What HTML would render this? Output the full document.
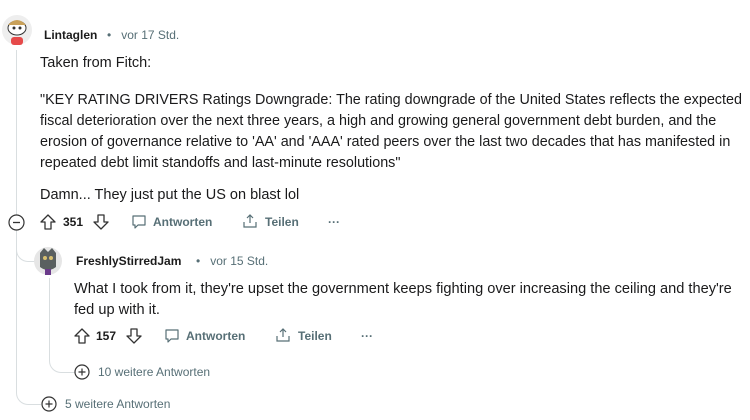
<!DOCTYPE html>
<html><head><meta charset="utf-8"><style>
body{margin:0;width:750px;height:420px;background:#fff;position:relative;overflow:hidden;font-family:"Liberation Sans",sans-serif;color:#1a1a1b}
.a{position:absolute;white-space:nowrap}
.t{font-size:14.5px;line-height:21px}
.u{font-size:12px;font-weight:bold;color:#1c1c1c}
.g{font-size:12px;color:#576f76}
.act{font-size:12px;font-weight:bold;color:#576f76}
.line{position:absolute;border-color:#d9dee0;border-style:solid;border-width:0}
svg{position:absolute;overflow:visible}
</style></head><body>
<div class="line" style="left:16px;top:50px;width:24px;height:354px;border-left-width:1px;border-bottom-width:1px;border-bottom-left-radius:12px"></div>
<div class="line" style="left:49px;top:278px;width:25px;height:94px;border-left-width:1px;border-bottom-width:1px;border-bottom-left-radius:12px"></div>
<div class="line" style="left:16px;top:240px;width:18px;height:21px;border-left-width:1px;border-bottom-width:1px;border-bottom-left-radius:12px"></div>

<svg style="left:2px;top:14px" width="30" height="32"><circle cx="15" cy="16" r="15" fill="#eeeeee"/><ellipse cx="15" cy="14" rx="9" ry="7" fill="#fff" stroke="#333" stroke-width="1"/><path d="M6 11 Q15 1 24 11" fill="#c9a15a"/><circle cx="12" cy="14" r="1.5" fill="#333"/><circle cx="18" cy="14" r="1.5" fill="#333"/><rect x="9" y="23" width="12" height="8" rx="3" fill="#e64a4a"/></svg>
<div class="a u" style="left:44px;top:28px">Lintaglen</div>
<div class="a g" style="left:107px;top:28px">•&nbsp;&nbsp;&nbsp;vor 17 Std.</div>

<div class="a t" style="left:40px;top:53px">Taken from Fitch:</div>
<div class="a t" style="left:40px;top:90px;font-size:14.35px">"KEY RATING DRIVERS Ratings Downgrade: The rating downgrade of the United States reflects the expected<br>fiscal deterioration over the next three years, a high and growing general government debt burden, and the<br>erosion of governance relative to 'AA' and 'AAA' rated peers over the last two decades that has manifested in<br>repeated debt limit standoffs and last-minute resolutions"</div>
<div class="a t" style="left:40px;top:185px">Damn... They just put the US on blast lol</div>

<svg style="left:8px;top:214px" width="17" height="17"><circle cx="8.5" cy="8.5" r="7.5" fill="#fff" stroke="#333" stroke-width="1.2"/><line x1="5" y1="8.5" x2="12" y2="8.5" stroke="#333" stroke-width="1.3"/></svg>
<svg style="left:40px;top:214px" width="16" height="16"><path d="M8 1 L15 8 H11 V15 H5 V8 H1 Z" fill="none" stroke="#333" stroke-width="1.3" stroke-linejoin="round"/></svg>
<div class="a act" style="left:63px;top:215px;color:#1c1c1c">351</div>
<svg style="left:93px;top:214px" width="16" height="16"><path d="M8 15 L15 8 H11 V1 H5 V8 H1 Z" fill="none" stroke="#333" stroke-width="1.3" stroke-linejoin="round"/></svg>
<svg style="left:131px;top:214px" width="16" height="16"><path d="M2 2 H14 V11 H7 L4 14 V11 H2 Z" fill="none" stroke="#576f76" stroke-width="1.2" stroke-linejoin="round"/></svg>
<div class="a act" style="left:153px;top:215px">Antworten</div>
<svg style="left:242px;top:213px" width="16" height="16"><path d="M8 10 V2 M5 5 L8 2 L11 5 M2 9 V14 H14 V9" fill="none" stroke="#576f76" stroke-width="1.2"/></svg>
<div class="a act" style="left:265px;top:215px">Teilen</div>
<div class="a act" style="left:328px;top:215px">···</div>

<svg style="left:34px;top:245px" width="30" height="32"><circle cx="14" cy="16" r="14" fill="#e6e6e6"/><path d="M6 8 L10 3 L14 7 L18 3 L22 8 L22 22 Q14 28 6 22 Z" fill="#5a6060"/><circle cx="11" cy="13" r="2" fill="#d8c070"/><circle cx="17" cy="13" r="2" fill="#d8c070"/><rect x="11" y="24" width="6" height="6" fill="#6a3a8a"/></svg>
<div class="a u" style="left:76px;top:254px">FreshlyStirredJam</div>
<div class="a g" style="left:196px;top:254px">•&nbsp;&nbsp;&nbsp;vor 15 Std.</div>
<div class="a t" style="left:74px;top:279px;font-size:14.6px">What I took from it, they're upset the government keeps fighting over increasing the ceiling and they're<br>fed up with it.</div>

<svg style="left:74px;top:328px" width="16" height="16"><path d="M8 1 L15 8 H11 V15 H5 V8 H1 Z" fill="none" stroke="#333" stroke-width="1.3" stroke-linejoin="round"/></svg>
<div class="a act" style="left:96px;top:329px;color:#1c1c1c">157</div>
<svg style="left:126px;top:328px" width="16" height="16"><path d="M8 15 L15 8 H11 V1 H5 V8 H1 Z" fill="none" stroke="#333" stroke-width="1.3" stroke-linejoin="round"/></svg>
<svg style="left:164px;top:328px" width="16" height="16"><path d="M2 2 H14 V11 H7 L4 14 V11 H2 Z" fill="none" stroke="#576f76" stroke-width="1.2" stroke-linejoin="round"/></svg>
<div class="a act" style="left:186px;top:329px">Antworten</div>
<svg style="left:275px;top:327px" width="16" height="16"><path d="M8 10 V2 M5 5 L8 2 L11 5 M2 9 V14 H14 V9" fill="none" stroke="#576f76" stroke-width="1.2"/></svg>
<div class="a act" style="left:298px;top:329px">Teilen</div>
<div class="a act" style="left:361px;top:329px">···</div>

<svg style="left:74px;top:364px" width="16" height="16"><circle cx="8" cy="8" r="7" fill="#fff" stroke="#333" stroke-width="1.2"/><path d="M4.5 8 H11.5 M8 4.5 V11.5" stroke="#333" stroke-width="1.2"/></svg>
<div class="a g" style="left:98px;top:365px">10 weitere Antworten</div>
<svg style="left:41px;top:396px" width="16" height="16"><circle cx="8" cy="8" r="7" fill="#fff" stroke="#333" stroke-width="1.2"/><path d="M4.5 8 H11.5 M8 4.5 V11.5" stroke="#333" stroke-width="1.2"/></svg>
<div class="a g" style="left:65px;top:397px">5 weitere Antworten</div>
</body></html>
